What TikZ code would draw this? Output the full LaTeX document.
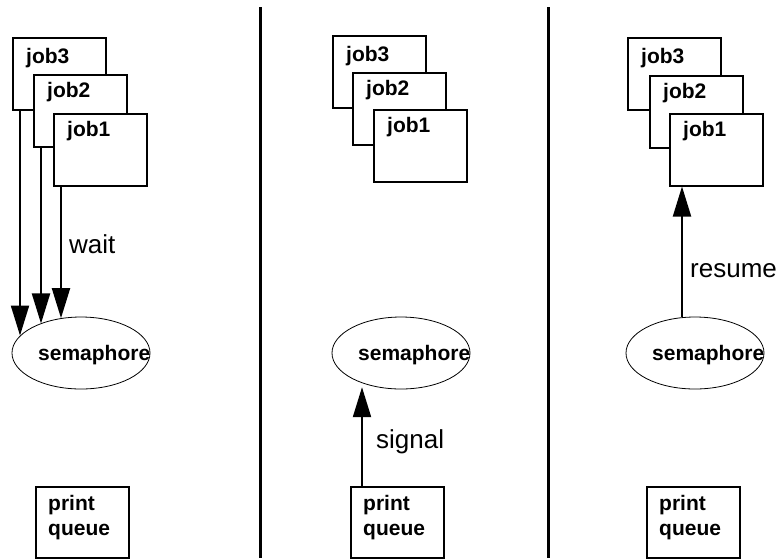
\documentclass[tikz,border=0pt]{standalone}
\usepackage{fontspec}
\setmainfont{Liberation Sans}
\usetikzlibrary{arrows.meta,shapes.geometric}
\begin{document}
\begin{tikzpicture}[x=1pt,y=-1pt,
  jobbox/.style={draw,line width=1.5pt,fill=white,minimum width=93pt,minimum height=72pt,anchor=north west,inner sep=0pt},
  pqbox/.style={draw,line width=1.5pt,fill=white,minimum width=93pt,minimum height=71pt,anchor=north west,inner sep=0pt},
  semell/.style={draw,ellipse,line width=0.8pt,minimum width=138pt,minimum height=72pt,inner sep=0pt},
  btxt/.style={font=\fontsize{21}{24}\selectfont\bfseries,anchor=base west,inner sep=0pt},
  lbl/.style={font=\fontsize{26}{30}\selectfont,anchor=base west,inner sep=0pt},
  arr/.style={line width=2pt,-{Triangle[length=30pt,width=18pt]}},
  divider/.style={line width=3pt}
]
\useasboundingbox (0,0) rectangle (782,558);

% dividers
\coordinate (d1t) at (260,7); \coordinate (d1b) at (260,558);
\coordinate (d2t) at (548,7); \coordinate (d2b) at (548,558);
\draw[divider] (d1t) -- (d1b);
\draw[divider] (d2t) -- (d2b);

% ---------- left panel ----------
\node[jobbox] (Lj3) at (12,37) {};
\node[btxt] (Lj3t) at ([shift={(14,26)}]Lj3.north west) {job3};
\node[jobbox] (Lj2) at (33,74) {};
\node[btxt] (Lj2t) at ([shift={(14,23)}]Lj2.north west) {job2};
\node[jobbox] (Lj1) at (53,113) {};
\node[btxt] (Lj1t) at ([shift={(14,23)}]Lj1.north west) {job1};

\node[semell] (Ls) at (81,353) {};
\node[btxt] (Lst) at ([shift={(-43,7)}]Ls.center) {semaphore};

\node[pqbox] (Lpq) at (35,486) {};
\node[btxt] (Lpq1) at ([shift={(13,24)}]Lpq.north west) {print};
\node[btxt] (Lpq2) at ([shift={(13,49)}]Lpq.north west) {queue};

\draw[arr] ([xshift=8pt]Lj3.south west) -- ([xshift=8pt]Lj3.south west |- Ls.164.4);
\draw[arr] ([xshift=8pt]Lj2.south west) -- ([xshift=8pt]Lj2.south west |- Ls.144.1);
\draw[arr] ([xshift=8pt]Lj1.south west) -- ([xshift=8pt]Lj1.south west |- Ls.120.1);
\node[lbl] (wait) at (69,253) {wait};

% ---------- middle panel ----------
\node[jobbox] (Mj3) at (332,35) {};
\node[btxt] (Mj3t) at ([shift={(14,26)}]Mj3.north west) {job3};
\node[jobbox] (Mj2) at (352,72) {};
\node[btxt] (Mj2t) at ([shift={(14,23)}]Mj2.north west) {job2};
\node[jobbox] (Mj1) at (373,109) {};
\node[btxt] (Mj1t) at ([shift={(14,23)}]Mj1.north west) {job1};

\node[semell] (Ms) at (401,353) {};
\node[btxt] (Mst) at ([shift={(-43,7)}]Ms.center) {semaphore};

\node[pqbox] (Mpq) at (350,486) {};
\node[btxt] (Mpq1) at ([shift={(13,24)}]Mpq.north west) {print};
\node[btxt] (Mpq2) at ([shift={(13,49)}]Mpq.north west) {queue};

\draw[arr] ([xshift=12pt]Mpq.north west) -- ([xshift=12pt]Mpq.north west |- Ms.235);
\node[lbl] (signal) at (376,448) {signal};

% ---------- right panel ----------
\node[jobbox] (Rj3) at (627,37) {};
\node[btxt] (Rj3t) at ([shift={(14,26)}]Rj3.north west) {job3};
\node[jobbox] (Rj2) at (649,75) {};
\node[btxt] (Rj2t) at ([shift={(14,23)}]Rj2.north west) {job2};
\node[jobbox] (Rj1) at (669,113) {};
\node[btxt] (Rj1t) at ([shift={(14,23)}]Rj1.north west) {job1};

\node[semell] (Rs) at (695,353) {};
\node[btxt] (Rst) at ([shift={(-43,7)}]Rs.center) {semaphore};

\node[pqbox] (Rpq) at (646,486) {};
\node[btxt] (Rpq1) at ([shift={(13,24)}]Rpq.north west) {print};
\node[btxt] (Rpq2) at ([shift={(13,49)}]Rpq.north west) {queue};

\draw[arr] (Rs.north -| Rj1.south west) ++(13,0) coordinate (rsa) -- (rsa |- Rj1.south);
\node[lbl] (resume) at (690,277) {resume};
\end{tikzpicture}
\end{document}
